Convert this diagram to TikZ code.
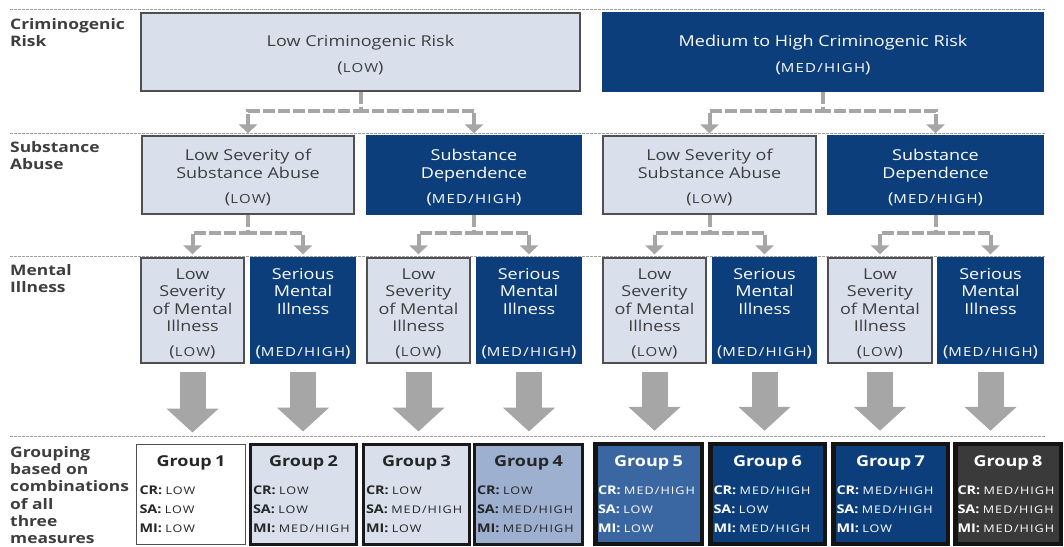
\documentclass[tikz,border=0pt]{standalone}
\usepackage{fontspec}
\setmainfont[FakeStretch=1.2]{Open Sans}
\newfontfamily\scf[FakeStretch=1.2,LetterSpace=10]{Open Sans}
\usetikzlibrary{arrows.meta,calc}
\definecolor{lightbox}{RGB}{217,224,236}
\definecolor{navy}{RGB}{12,62,124}
\definecolor{midblue}{RGB}{157,176,208}
\definecolor{grpfive}{RGB}{58,102,162}
\definecolor{grpeight}{RGB}{58,58,58}
\definecolor{connc}{RGB}{166,166,166}
\definecolor{txtdark}{RGB}{62,62,62}
\definecolor{bord}{RGB}{80,80,80}
\newcommand\smc[1]{{\scf\fontsize{12.5}{15}\selectfont #1}}
\newcommand\smv[1]{{\scf\fontsize{10.5}{13}\selectfont #1}}
\newcommand\tsp{\rule{0pt}{16.5pt}}
\newcommand\grpc[4]{{\centering\fontsize{15}{18}\selectfont\bfseries Group #1\par}\vspace{8.5pt}{\fontsize{12}{19}\selectfont\textbf{CR:} \smv{#2}\\\textbf{SA:} \smv{#3}\\\textbf{MI:} \smv{#4}\par}}
\begin{document}
\begin{tikzpicture}[x=1pt,y=-1pt,
  lab/.style={anchor=north west,align=left,inner sep=0pt,text=txtdark,
    font=\fontsize{14.5}{17.3}\selectfont\bfseries},
  boxbase/.style={rectangle,inner sep=0pt,align=center,font=\fontsize{15}{17.5}\selectfont},
  lbox/.style={boxbase,fill=lightbox,draw=bord,line width=1.3pt,text=txtdark},
  dbox/.style={boxbase,fill=navy,draw=navy,line width=1.3pt,text=white},
  sep/.style={draw=gray!75,line width=0.8pt,dash pattern=on 3pt off 1pt},
  conn/.style={draw=connc,line width=4pt,dash pattern=on 12pt off 3pt,
    -{Triangle[width=18pt,length=9pt]}},
  bigarr/.style={draw=connc,line width=26pt,-{Triangle[width=51pt,length=24pt]},
    shorten <=8pt,shorten >=11pt},
  grp/.style={rectangle,inner xsep=0pt,inner ysep=0pt,align=left,minimum height=100pt},
]
\fill[white] (0,0) rectangle (1064,546);
\useasboundingbox (0,0) rectangle (1064,546);

% separators
\draw[sep] (10,9) -- (1045,9);
\draw[sep] (10,133) -- (1045,133);
\draw[sep] (10,256) -- (1045,256);
\draw[sep] (10,436) -- (1045,436);

% row labels
\node[lab] (labcr) at (10,18) {Criminogenic\\Risk};
\node[lab] (labsa) at (10,141) {Substance\\Abuse};
\node[lab] (labmi) at (10,264) {Mental\\Illness};
\node[lab] (labgr) at (10,446) {Grouping\\based on\\combinations\\of all\\three\\measures};

% row 1
\node[lbox,minimum width=439pt,minimum height=78pt] (lowcr) at (360.5,52)
  {\tsp Low Criminogenic Risk\\[8.5pt](\smc{LOW})};
\node[dbox,minimum width=440pt,minimum height=78pt] (medcr) at (823,52)
  {\tsp Medium to High Criminogenic Risk\\[8.5pt](\smc{MED/HIGH})};

% row 2
\node[lbox,minimum width=212pt,minimum height=78pt] (sa1) at (248,175)
  {\tsp Low Severity of\\Substance Abuse\\[7.5pt](\smc{LOW})};
\node[dbox,minimum width=214pt,minimum height=78pt] (sa2) at (474,175)
  {\tsp Substance\\Dependence\\[7.5pt](\smc{MED/HIGH})};
\node[lbox,minimum width=213pt,minimum height=78pt] (sa3) at (709.5,175)
  {\tsp Low Severity of\\Substance Abuse\\[7.5pt](\smc{LOW})};
\node[dbox,minimum width=215pt,minimum height=78pt] (sa4) at (935.5,175)
  {\tsp Substance\\Dependence\\[7.5pt](\smc{MED/HIGH})};

% row 3
\node[lbox,minimum width=103pt,minimum height=105pt] (mi1) at (192.5,310.5)
  {\tsp Low\\Severity\\of Mental\\Illness\\[7pt](\smc{LOW})};
\node[dbox,minimum width=104pt,minimum height=105pt] (mi2) at (303,310.5)
  {\tsp Serious\\Mental\\Illness\\~\\[7pt](\smc{MED/HIGH})};
\node[lbox,minimum width=103pt,minimum height=105pt] (mi3) at (418.5,310.5)
  {\tsp Low\\Severity\\of Mental\\Illness\\[7pt](\smc{LOW})};
\node[dbox,minimum width=104pt,minimum height=105pt] (mi4) at (529,310.5)
  {\tsp Serious\\Mental\\Illness\\~\\[7pt](\smc{MED/HIGH})};
\node[lbox,minimum width=103pt,minimum height=105pt] (mi5) at (654.5,310.5)
  {\tsp Low\\Severity\\of Mental\\Illness\\[7pt](\smc{LOW})};
\node[dbox,minimum width=103pt,minimum height=105pt] (mi6) at (764.5,310.5)
  {\tsp Serious\\Mental\\Illness\\~\\[7pt](\smc{MED/HIGH})};
\node[lbox,minimum width=104pt,minimum height=105pt] (mi7) at (880,310.5)
  {\tsp Low\\Severity\\of Mental\\Illness\\[7pt](\smc{LOW})};
\node[dbox,minimum width=105pt,minimum height=105pt] (mi8) at (990.5,310.5)
  {\tsp Serious\\Mental\\Illness\\~\\[7pt](\smc{MED/HIGH})};

% row 4 groups
\node[grp,fill=white,draw=bord,line width=1pt,text=black!85,
  minimum width=109pt,text width=103pt] (g1) at (191,494) {\grpc{1}{LOW}{LOW}{LOW}};
\node[grp,fill=lightbox,draw=black!90,line width=3pt,text=black!85,
  minimum width=106pt,text width=101pt] (g2) at (303.5,494) {\grpc{2}{LOW}{LOW}{MED/HIGH}};
\node[grp,fill=lightbox,draw=black!90,line width=3pt,text=black!85,
  minimum width=106pt,text width=101pt] (g3) at (416.5,494) {\grpc{3}{LOW}{MED/HIGH}{LOW}};
\node[grp,fill=midblue,draw=black!90,line width=3pt,text=black!85,
  minimum width=108pt,text width=103pt] (g4) at (528.5,494) {\grpc{4}{LOW}{MED/HIGH}{MED/HIGH}};
\node[grp,fill=grpfive,draw=black!92,line width=4.5pt,text=white,
  minimum width=106.5pt,text width=101pt] (g5) at (648.5,494) {\grpc{5}{MED/HIGH}{LOW}{LOW}};
\node[grp,fill=navy,draw=black!92,line width=4.5pt,text=white,
  minimum width=114.5pt,text width=108pt] (g6) at (767.5,494) {\grpc{6}{MED/HIGH}{LOW}{MED/HIGH}};
\node[grp,fill=navy,draw=black!92,line width=4.5pt,text=white,
  minimum width=114.5pt,text width=108pt] (g7) at (890.5,494) {\grpc{7}{MED/HIGH}{MED/HIGH}{LOW}};
\node[grp,fill=grpeight,draw=black!92,line width=4.5pt,text=white,
  minimum width=105.5pt,text width=101pt] (g8) at (1008,494) {\grpc{8}{MED/HIGH}{MED/HIGH}{MED/HIGH}};

% dashed connectors row 1 -> row 2
\draw[conn,shorten >=2pt] (lowcr.south) -- ++(0,19) -| (sa1.north);
\draw[conn,shorten >=2pt] (lowcr.south) -- ++(0,19) -| (sa2.north);
\draw[conn,shorten >=2pt] (medcr.south) -- ++(0,19) -| (sa3.north);
\draw[conn,shorten >=2pt] (medcr.south) -- ++(0,19) -| (sa4.north);

% dashed connectors row 2 -> row 3
\draw[conn,shorten >=3pt] (sa1.south) -- ++(0,18) -| (mi1.north);
\draw[conn,shorten >=3pt] (sa1.south) -- ++(0,18) -| (mi2.north);
\draw[conn,shorten >=3pt] (sa2.south) -- ++(0,18) -| (mi3.north);
\draw[conn,shorten >=3pt] (sa2.south) -- ++(0,18) -| (mi4.north);
\draw[conn,shorten >=3pt] (sa3.south) -- ++(0,18) -| (mi5.north);
\draw[conn,shorten >=3pt] (sa3.south) -- ++(0,18) -| (mi6.north);
\draw[conn,shorten >=3pt] (sa4.south) -- ++(0,18) -| (mi7.north);
\draw[conn,shorten >=3pt] (sa4.south) -- ++(0,18) -| (mi8.north);

% big arrows row 3 -> row 4
\foreach \i in {1,...,8}{
  \draw[bigarr] (mi\i.south) -- (mi\i.south |- g\i.north);
}
\end{tikzpicture}
\end{document}
